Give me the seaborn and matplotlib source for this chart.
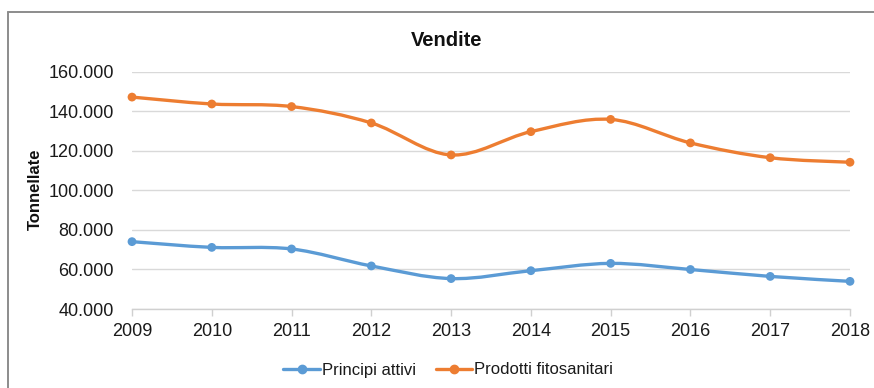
import numpy as np
import pandas as pd
import matplotlib
matplotlib.use("Agg")
import matplotlib.pyplot as plt
from matplotlib.path import Path
from matplotlib.patches import PathPatch
from matplotlib.lines import Line2D
from matplotlib.ticker import FuncFormatter
import seaborn as sns

# Sales data (tonnes)
years = [2009, 2010, 2011, 2012, 2013, 2014, 2015, 2016, 2017, 2018]
principi_attivi = [74100, 71200, 70400, 61800, 55400, 59400, 63100, 60000, 56500, 54000]
prodotti_fitosanitari = [147300, 143800, 142500, 134200, 118000, 129800, 136000, 124100, 116600, 114300]
series_names = ["Principi attivi", "Prodotti fitosanitari"]
colors = ["#5B9BD5", "#ED7D31"]
y_ticks = [40000, 60000, 80000, 100000, 120000, 140000, 160000]

sns.set_theme(style="white")
plt.rcParams["font.family"] = ["Liberation Sans", "DejaVu Sans"]

df = pd.DataFrame({
    "Anno": years * 2,
    "Tonnellate": principi_attivi + prodotti_fitosanitari,
    "Serie": [series_names[0]] * len(years) + [series_names[1]] * len(years),
})

fig = plt.figure(figsize=(8.74, 3.88), dpi=100)
ax = fig.add_axes([132 / 874, 1 - 309 / 388, 718 / 874, 237 / 388])


def smooth_path(xs, ys):
    """Cubic Bezier path through the points (spreadsheet-style smoothed line)."""
    pts = np.column_stack([xs, ys]).astype(float)
    n = len(pts)
    verts = [pts[0]]
    codes = [Path.MOVETO]
    for i in range(n - 1):
        p0 = pts[i - 1] if i > 0 else pts[i]
        p1 = pts[i]
        p2 = pts[i + 1]
        p3 = pts[i + 2] if i + 2 < n else pts[i + 1]
        c1 = p1 + (p2 - p0) / 6.0
        c2 = p2 - (p3 - p1) / 6.0
        verts += [c1, c2, p2]
        codes += [Path.CURVE4] * 3
    return Path(verts, codes)


for name, color in zip(series_names, colors):
    sub = df[df["Serie"] == name]
    patch = PathPatch(smooth_path(sub["Anno"].values, sub["Tonnellate"].values),
                      facecolor="none", edgecolor=color, lw=2.4,
                      capstyle="round", joinstyle="round", zorder=3)
    ax.add_patch(patch)

sns.scatterplot(data=df, x="Anno", y="Tonnellate", hue="Serie",
                palette=colors, s=40, edgecolor="none", zorder=4,
                legend=False, ax=ax, clip_on=False)

ax.set_xlim(2009, 2018)
ax.set_ylim(40000, 160000)
ax.set_xticks(years)
ax.set_yticks(y_ticks)
ax.yaxis.set_major_formatter(FuncFormatter(lambda v, p: f"{int(v):,}".replace(",", ".")))
ax.grid(axis="y", color="#d9d9d9", lw=1.0)
ax.set_axisbelow(True)
for s in ["top", "right", "left"]:
    ax.spines[s].set_visible(False)
ax.spines["bottom"].set_color("#d0d0d0")
ax.spines["bottom"].set_linewidth(1.0)
ax.tick_params(axis="x", which="major", bottom=True, length=5, width=1.0,
               color="#d0d0d0", labelsize=13, pad=5, labelcolor="#1a1a1a")
ax.tick_params(axis="y", left=False, length=0, labelsize=13, pad=13, labelcolor="#1a1a1a")
ax.set_xlabel("")
ax.set_ylabel("")

fig.text(447 / 874, 1 - 40 / 388, "Vendite", ha="center", va="center",
         fontsize=14.5, fontweight="bold", color="#111111")
fig.text(35 / 874, 1 - 189 / 388, "Tonnellate", ha="center", va="center",
         rotation=90, fontsize=12, fontweight="bold", color="#111111")

handles = [Line2D([0], [0], color=c, lw=2.4, marker="o", markersize=6) for c in colors]
fig.legend(handles, series_names, loc="center", bbox_to_anchor=(448 / 874, 1 - 370 / 388),
           ncol=2, frameon=False, fontsize=12, handlelength=2.2, handletextpad=0.1,
           columnspacing=1.2, labelcolor="#1a1a1a")

# Chart frame (left and top edges)
fig.add_artist(Line2D([8 / 874, 8 / 874], [0, 1 - 12 / 388], color="#8c8c8c", lw=1.4,
                      transform=fig.transFigure))
fig.add_artist(Line2D([8 / 874, 1], [1 - 12 / 388, 1 - 12 / 388], color="#8c8c8c", lw=1.4,
                      transform=fig.transFigure))

fig.savefig("out.png", dpi=100)
